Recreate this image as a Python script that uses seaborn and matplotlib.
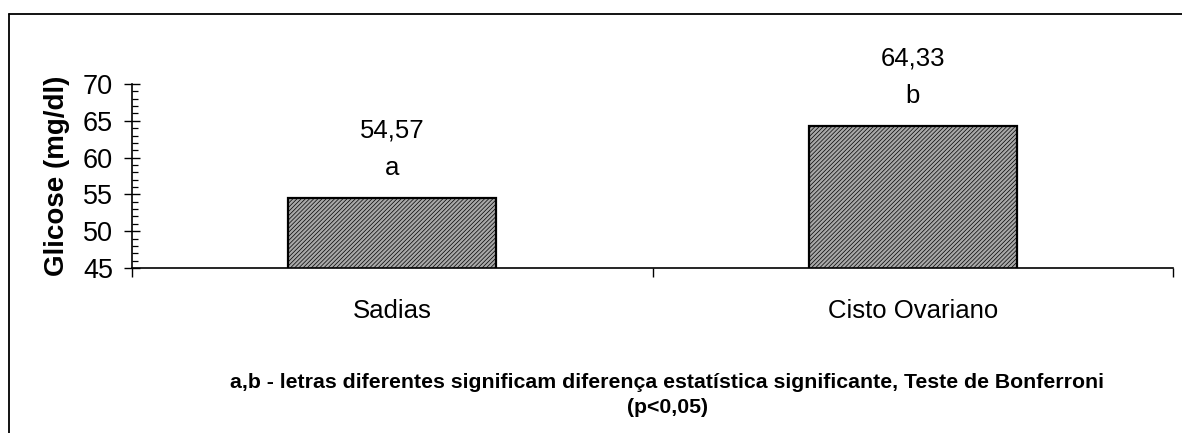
import matplotlib
matplotlib.use("Agg")
import matplotlib.pyplot as plt
from matplotlib import font_manager
from matplotlib.lines import Line2D
from matplotlib.ticker import MultipleLocator, FixedLocator
import seaborn as sns

# Glucose means per group, with significance letters
grupos = ["Sadias", "Cisto Ovariano"]
glicose = [54.57, 64.33]
rotulos_valor = ["54,57", "64,33"]
letras = ["a", "b"]
yticks = [45, 50, 55, 60, 65, 70]
nota_linha1 = ("a,b - letras diferentes significam diferença estatística significante, "
               "Teste de Bonferroni")
nota_linha2 = "(p<0,05)"

sns.set_theme(style="white")
plt.rcParams["font.family"] = ["Liberation Sans", "DejaVu Sans"]
plt.rcParams["hatch.linewidth"] = 0.5
plt.rcParams["hatch.color"] = "#3a3a3a"
for k in ["text.color", "axes.labelcolor", "xtick.color", "ytick.color"]:
    plt.rcParams[k] = "black"

installed = {f.name for f in font_manager.fontManager.ttflist}
narrow = "Liberation Sans Narrow" if "Liberation Sans Narrow" in installed else "Liberation Sans"

fig = plt.figure(figsize=(11.82, 4.33), dpi=100)
ax = fig.add_axes([132 / 1182, 1 - 268 / 433, (1173 - 132) / 1182, (268 - 84) / 433])

sns.barplot(x=grupos, y=glicose, ax=ax, width=0.4, color="#a8a8a8",
            edgecolor="black", linewidth=1.6, saturation=1)
for p in ax.patches:
    p.set_hatch("////////")
    p.set_facecolor("#a8a8a8")

ax.set_xlim(-0.5, 1.5)
ax.set_ylim(45, 70)

# frame: only left and bottom axis lines
for s in ["top", "right"]:
    ax.spines[s].set_visible(False)
for s in ["left", "bottom"]:
    ax.spines[s].set_color("black")
    ax.spines[s].set_linewidth(1.2)

ax.yaxis.set_major_locator(FixedLocator(yticks))
ax.yaxis.set_minor_locator(MultipleLocator(1))
ax.set_yticklabels([str(v) for v in yticks], fontsize=19.5)
ax.tick_params(axis="y", which="major", direction="inout", length=12,
               width=1.0, color="black", pad=7.5, left=True)
ax.tick_params(axis="y", which="minor", direction="in", length=4.5,
               width=0.9, color="black", left=True)

ax.xaxis.set_minor_locator(FixedLocator([-0.5, 0.5, 1.5]))
ax.tick_params(axis="x", which="major", length=0, pad=22, labelsize=18.5)
ax.tick_params(axis="x", which="minor", direction="out", length=6.5,
               width=1.0, color="black", bottom=True)

ax.set_ylabel("Glicose (mg/dl)", fontsize=20, fontweight="bold")
ax.yaxis.set_label_coords(-62 / 1041, 0.5)
ax.set_xlabel("")

# value and letter above each bar
for i, (v, txt, let) in enumerate(zip(glicose, rotulos_valor, letras)):
    ax.annotate(let, (i, v), xytext=(0, 16.5), textcoords="offset points",
                ha="center", va="baseline", fontsize=18.5)
    ax.annotate(txt, (i, v), xytext=(0, 43.5), textcoords="offset points",
                ha="center", va="baseline", fontsize=18.5)

fig.text(667 / 1182, 1 - 388 / 433, nota_linha1, ha="center", va="baseline",
         fontsize=15.3, fontweight="bold", family=[narrow, "DejaVu Sans"])
fig.text(667 / 1182, 1 - 413 / 433, nota_linha2, ha="center", va="baseline",
         fontsize=15.3, fontweight="bold", family=[narrow, "DejaVu Sans"])

# outer border of the chart area
yb = 1 - 14 / 433
xb = 8.5 / 1182
fig.add_artist(Line2D([xb, 1.0], [yb, yb], transform=fig.transFigure,
                      color="black", linewidth=1.3))
fig.add_artist(Line2D([xb, xb], [0, yb], transform=fig.transFigure,
                      color="black", linewidth=1.3))

fig.savefig("out.png", dpi=100, facecolor="white")
